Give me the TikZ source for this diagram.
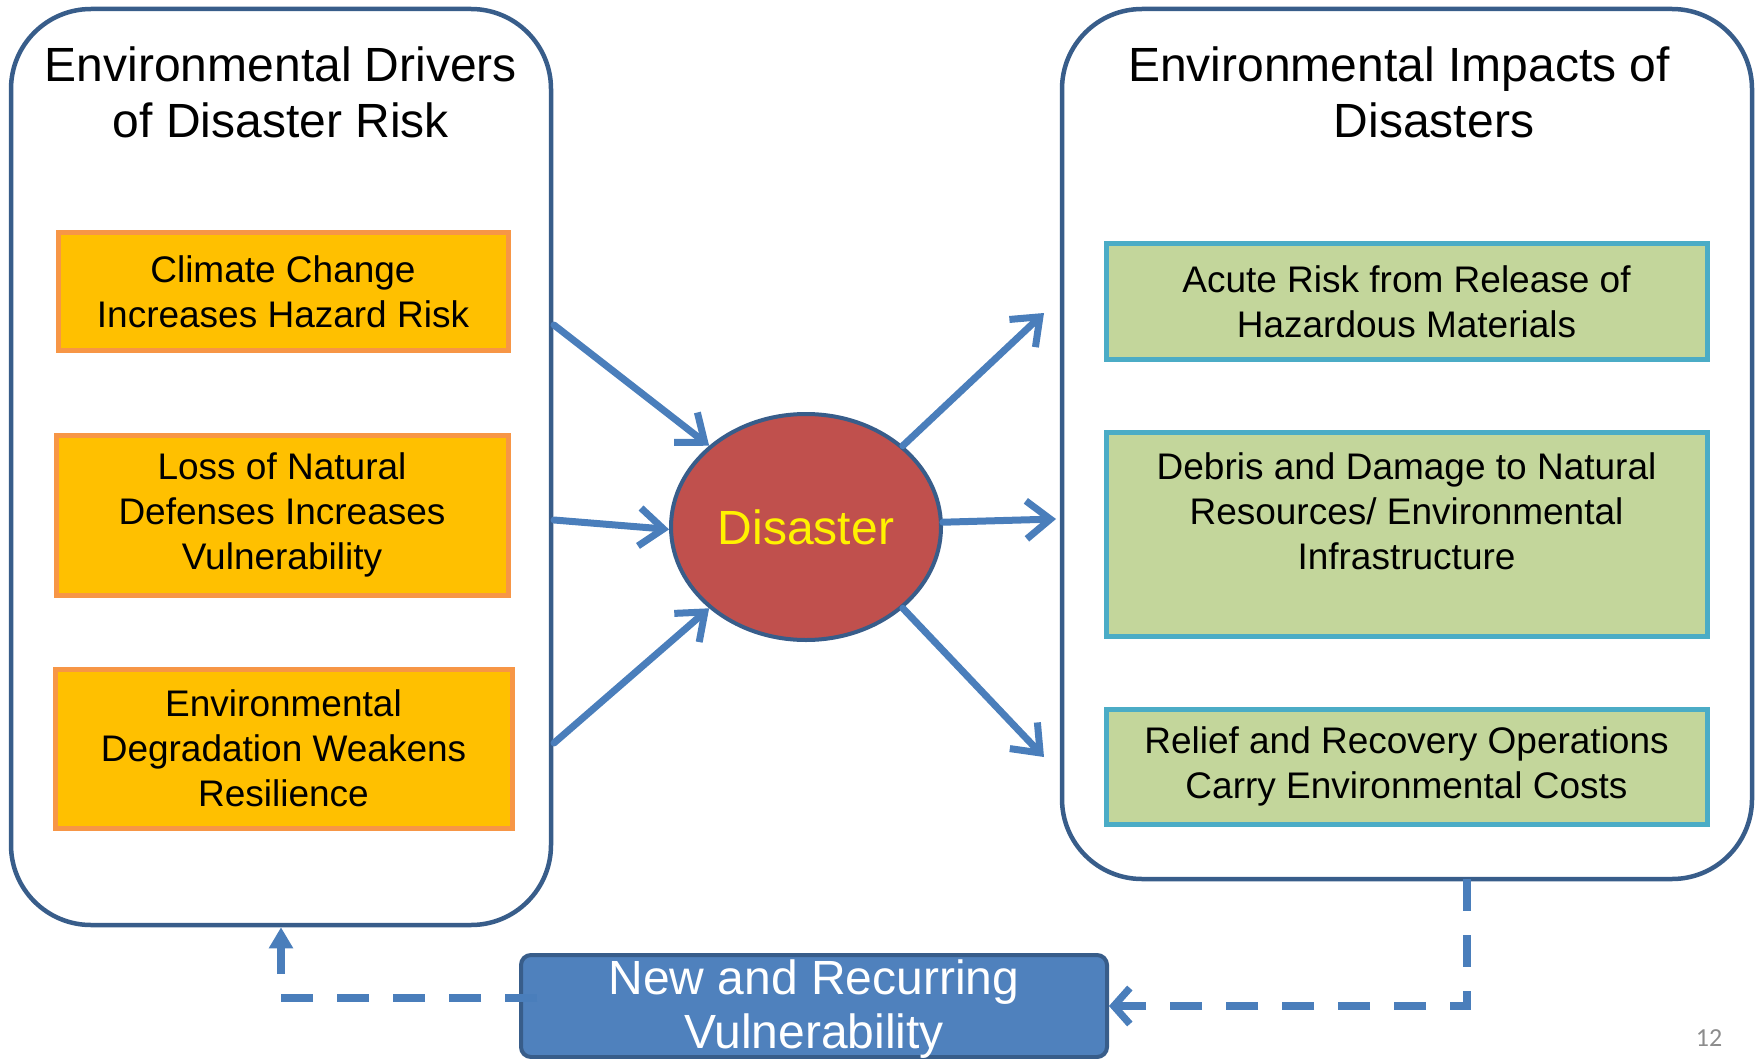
\documentclass[tikz,border=0pt]{standalone}
\usepackage{fontspec}
\setmainfont{Liberation Sans}
\newfontfamily\pagefont{Carlito}
\usetikzlibrary{arrows.meta,shapes.geometric}
\definecolor{frameblue}{RGB}{56,93,138}
\definecolor{arrowblue}{RGB}{74,126,187}
\definecolor{orangefill}{RGB}{255,192,0}
\definecolor{orangeline}{RGB}{247,150,70}
\definecolor{greenfill}{RGB}{195,214,155}
\definecolor{greenline}{RGB}{75,172,198}
\definecolor{disred}{RGB}{192,80,77}
\definecolor{vulblue}{RGB}{79,129,189}
\definecolor{pagegray}{RGB}{140,140,140}
\begin{document}
\begin{tikzpicture}[x=0.5pt,y=-0.5pt,
  container/.style={draw=frameblue, line width=2.25pt, rounded corners=40pt, fill=white, inner sep=0pt},
  titletext/.style={align=center, font=\fontsize{24}{28}\selectfont, inner sep=0pt},
  drvbox/.style={draw=orangeline, fill=orangefill, line width=2.5pt, align=center, inner sep=0pt, font=\fontsize{18.5}{22.5}\selectfont},
  impbox/.style={draw=greenline, fill=greenfill, line width=2.5pt, align=center, inner sep=0pt, font=\fontsize{18.5}{22.5}\selectfont},
  flow/.style={draw=arrowblue, line width=3.5pt, line cap=round, -{Straight Barb[length=12pt,width=19pt]}},
  dashflow/.style={draw=arrowblue, line width=3.6pt, dash pattern=on 16pt off 12pt}
]
\clip (0,0) rectangle (1760,1059);
\useasboundingbox (0,0) rectangle (1760,1059);

% containers
\node[container, minimum width=270pt, minimum height=458pt] (drv) at (281,467) {};
\node[container, minimum width=345pt, minimum height=435pt] (imp) at (1407,444) {};

\node[titletext] (drvtitle) at (281,92) {Environmental Drivers\\of Disaster Risk};
\node[titletext] (imptitle) at (1399,92) {Environmental Impacts of\\\hspace*{35pt}Disasters};

% driver boxes
\node[drvbox, minimum width=225pt, minimum height=58.5pt] (o1) at (283,291.5) {Climate Change\\Increases Hazard Risk};
\node[drvbox, minimum width=226pt, minimum height=80pt] (o2) at (282,515) {Loss of Natural\\Defenses Increases\\Vulnerability};
\node[drvbox, minimum width=228.5pt, minimum height=79.5pt] (o3) at (283.5,748.5) {Environmental\\Degradation Weakens\\Resilience};

% impact boxes
\node[impbox, minimum width=300.5pt, minimum height=57.5pt] (g1) at (1406.5,301.5) {Acute Risk from Release of\\Hazardous Materials};
\node[impbox, minimum width=300.5pt, minimum height=102pt] (g2) at (1406.5,534) {Debris and Damage to Natural\\Resources/ Environmental\\Infrastructure\\\mbox{}};
\node[impbox, minimum width=300.5pt, minimum height=57.5pt] (g3) at (1406.5,766.5) {Relief and Recovery Operations\\Carry Environmental Costs};

% disaster
\node[ellipse, draw=frameblue, line width=2pt, fill=disred, minimum width=135pt, minimum height=113pt, inner sep=0pt, text=yellow, font=\fontsize{24}{28}\selectfont] (dis) at (806,527) {Disaster};

% arrow tails / heads
\coordinate (t1) at (554,325);
\coordinate (t2) at (554,520);
\coordinate (t3) at (554,743);
\coordinate (h1) at (1044,313);
\coordinate (h2) at (1056,519);
\coordinate (h3) at (1044,757);

\draw[flow] (t1) -- (dis.140);
\draw[flow] (t2) -- (dis.181);
\draw[flow] (t3) -- (dis.220);
\draw[flow] (dis.40) -- (h1);
\draw[flow] (dis.2) -- (h2);
\draw[flow] (dis.-40) -- (h3);

% feedback box
\node[draw=frameblue, fill=vulblue, line width=2pt, rounded corners=5pt, minimum width=293pt, minimum height=51pt, inner sep=0pt] (vul) at (814,1006) {};
\node[align=center, text=white, inner sep=0pt, font=\fontsize{24}{27}\selectfont] (vultext) at (814,1009) {New and Recurring\\Vulnerability};

\coordinate (r0) at (1467,879);
\coordinate (l0) at (561,998);
\draw[dashflow, -{Straight Barb[length=8pt,width=18pt]}] (r0) |- (vul.east);
\draw[dashflow, dash phase=16pt, -{Triangle[length=10.5pt,width=11.5pt]}] (l0) -| (drv.south);

\node[text=pagegray, font=\pagefont\fontsize{13}{15}\selectfont, inner sep=0pt] (pg) at (1709,1038) {12};
\end{tikzpicture}
\end{document}
